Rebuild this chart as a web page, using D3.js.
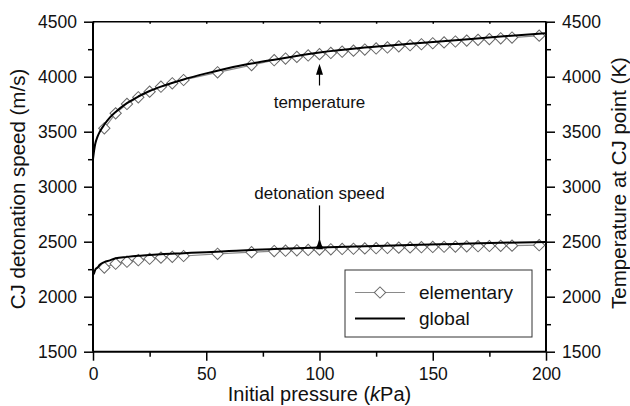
<!DOCTYPE html>
<html>
<head>
<meta charset="utf-8">
<script src="https://cdn.jsdelivr.net/npm/d3@7"></script>
<style>
  body { margin: 0; background: #fff; }
  svg text { font-family: "Liberation Sans", Arial, sans-serif; fill: #111; }
</style>
</head>
<body>
<div id="chart"></div>
<script>
// elementary model (markers), pressure in kPa
const elemPressure = [5, 10, 15, 20, 25, 30, 35, 40, 55, 70, 80, 85, 90, 95, 100, 105, 110, 115, 120, 125, 130,
  135, 140, 145, 150, 155, 160, 165, 170, 175, 180, 185, 197];
const elemTemperature = [3531, 3667, 3752, 3813, 3864, 3909, 3940, 3970, 4040, 4106, 4150, 4165, 4180, 4193, 4205,
  4216, 4227, 4237, 4247, 4257, 4266, 4276, 4286, 4295, 4304, 4312, 4320, 4328, 4335, 4342, 4349, 4356, 4373];
const elemSpeed = [2265, 2300, 2318, 2332, 2345, 2355, 2363, 2370, 2390, 2405, 2415, 2418, 2422, 2425, 2428, 2431,
  2434, 2436, 2439, 2441, 2443, 2446, 2448, 2450, 2452, 2454, 2456, 2458, 2459, 2461, 2463, 2464, 2468];

// global model (lines)
const globPressure = [0, 0.5, 1, 2, 3, 5, 7.5, 10, 15, 20, 25, 30, 40, 50, 60, 70, 80, 100, 120, 140, 160, 180, 200];
const globTemperature = [3250, 3330, 3390, 3455, 3500, 3565, 3630, 3680, 3760, 3820, 3870, 3910, 3975, 4030, 4080,
  4120, 4155, 4220, 4265, 4300, 4332, 4365, 4395];
const globSpeed = [2200, 2215, 2245, 2265, 2290, 2315, 2330, 2350, 2362, 2372, 2380, 2387, 2396, 2405, 2415, 2425,
  2433, 2447, 2458, 2470, 2480, 2490, 2498];

const xTicks = [0, 50, 100, 150, 200];
const yTicks = [1500, 2000, 2500, 3000, 3500, 4000, 4500];

const W = 630, H = 406;
const margin = {top: 21.7, right: 84, bottom: 54.3, left: 93};
const width = W - margin.left - margin.right;
const height = H - margin.top - margin.bottom;

const svg = d3.select('#chart').append('svg')
  .attr('width', W).attr('height', H);
const g = svg.append('g')
  .attr('transform', `translate(${margin.left},${margin.top})`);

const x = d3.scaleLinear().domain([0, 200]).range([0, width]);
const y = d3.scaleLinear().domain([1500, 4500]).range([height, 0]);

// axes
const minorX = d3.range(25, 200, 50);
const minorY = d3.range(1750, 4500, 500);

function styleAxis(sel) {
  sel.select('.domain').remove();
  sel.selectAll('line').attr('stroke', '#000').attr('stroke-width', 1.5);
  sel.selectAll('text').style('font-size', '17.5px').attr('fill', '#111');
}

g.append('g').attr('transform', `translate(0,${height})`)
  .call(d3.axisBottom(x).tickValues(xTicks).tickSize(9).tickPadding(7).tickFormat(d3.format('d')))
  .call(styleAxis);
g.append('g').attr('transform', `translate(0,${height})`)
  .call(d3.axisBottom(x).tickValues(minorX).tickSize(5).tickFormat(''))
  .call(styleAxis);
g.append('g')
  .call(d3.axisTop(x).tickValues(xTicks.concat(minorX)).tickSize(-2).tickFormat(''))
  .call(styleAxis);

g.append('g')
  .call(d3.axisLeft(y).tickValues(yTicks).tickSize(9).tickPadding(7).tickFormat(d3.format('d')))
  .call(styleAxis);
g.append('g')
  .call(d3.axisLeft(y).tickValues(minorY).tickSize(5).tickFormat(''))
  .call(styleAxis);
g.append('g').attr('transform', `translate(${width},0)`)
  .call(d3.axisRight(y).tickValues(yTicks).tickSize(9).tickPadding(7).tickFormat(d3.format('d')))
  .call(styleAxis);
g.append('g').attr('transform', `translate(${width},0)`)
  .call(d3.axisRight(y).tickValues(minorY).tickSize(5).tickFormat(''))
  .call(styleAxis);

// frame
g.append('line').attr('x1', 0).attr('x2', width).attr('y1', 0).attr('y2', 0)
  .attr('stroke', '#000').attr('stroke-width', 1.5);
g.append('line').attr('x1', 0).attr('x2', width).attr('y1', height).attr('y2', height)
  .attr('stroke', '#000').attr('stroke-width', 2);
g.append('line').attr('x1', 0).attr('x2', 0).attr('y1', 0).attr('y2', height)
  .attr('stroke', '#000').attr('stroke-width', 2);
g.append('line').attr('x1', width).attr('x2', width).attr('y1', 0).attr('y2', height)
  .attr('stroke', '#000').attr('stroke-width', 2);

// series
const line = d3.line().x(d => x(d[0])).y(d => y(d[1]));
const diamond = d3.symbol().type(d3.symbolSquare).size(64);

function drawElementary(values) {
  const pts = elemPressure.map((p, i) => [p, values[i]]);
  g.append('path').datum(pts).attr('d', line)
    .attr('fill', 'none').attr('stroke', '#8a8a8a').attr('stroke-width', 1.2);
  g.selectAll(null).data(pts).enter().append('path')
    .attr('d', diamond)
    .attr('transform', d => `translate(${x(d[0])},${y(d[1])}) rotate(45)`)
    .attr('fill', '#fff').attr('stroke', '#666').attr('stroke-width', 1);
}
function drawGlobal(values) {
  const pts = globPressure.map((p, i) => [p, values[i]]);
  g.append('path').datum(pts).attr('d', line.curve(d3.curveMonotoneX))
    .attr('fill', 'none').attr('stroke', '#000').attr('stroke-width', 2);
  line.curve(d3.curveLinear);
}
drawElementary(elemTemperature);
drawElementary(elemSpeed);
drawGlobal(globTemperature);
drawGlobal(globSpeed);

// annotations
function arrow(px, fromV, toV) {
  const xp = x(px), y0 = y(fromV), y1 = y(toV);
  g.append('line').attr('x1', xp).attr('x2', xp).attr('y1', y0).attr('y2', y1 + 8)
    .attr('stroke', '#000').attr('stroke-width', 1.2);
  g.append('path')
    .attr('d', `M${xp},${y1} L${xp - 3.5},${y1 + 11} L${xp + 3.5},${y1 + 11} Z`)
    .attr('fill', '#000');
}
arrow(100, 3920, 4118);
g.append('text').attr('x', x(100)).attr('y', y(3714)).attr('text-anchor', 'middle')
  .style('font-size', '17px').text('temperature');
arrow(100, 2830, 2532);
g.append('text').attr('x', x(100)).attr('y', y(2886)).attr('text-anchor', 'middle')
  .style('font-size', '17px').text('detonation speed');

// legend
const lg = svg.append('g').attr('transform', 'translate(345,270)');
lg.append('rect').attr('width', 187).attr('height', 67)
  .attr('fill', '#fff').attr('stroke', '#333').attr('stroke-width', 1);
lg.append('line').attr('x1', 10).attr('x2', 60).attr('y1', 22.5).attr('y2', 22.5)
  .attr('stroke', '#8a8a8a').attr('stroke-width', 1.2);
lg.append('path').attr('d', diamond).attr('transform', 'translate(35,22.5) rotate(45)')
  .attr('fill', '#fff').attr('stroke', '#666');
lg.append('line').attr('x1', 10).attr('x2', 60).attr('y1', 48.5).attr('y2', 48.5)
  .attr('stroke', '#000').attr('stroke-width', 2);
lg.append('text').attr('x', 74).attr('y', 29).style('font-size', '19px').text('elementary');
lg.append('text').attr('x', 74).attr('y', 55).style('font-size', '19px').text('global');

// axis titles
svg.append('text').attr('x', margin.left + width / 2).attr('y', 401).attr('text-anchor', 'middle')
  .style('font-size', '20px')
  .html('Initial pressure (<tspan font-style="italic">k</tspan>Pa)');
svg.append('text').attr('transform', 'translate(25,189) rotate(-90)')
  .attr('text-anchor', 'middle').style('font-size', '20.5px').text('CJ detonation speed (m/s)');
svg.append('text').attr('transform', 'translate(626,183) rotate(-90)')
  .attr('text-anchor', 'middle').style('font-size', '20.5px').text('Temperature at CJ point (K)');
</script>
</body>
</html>
